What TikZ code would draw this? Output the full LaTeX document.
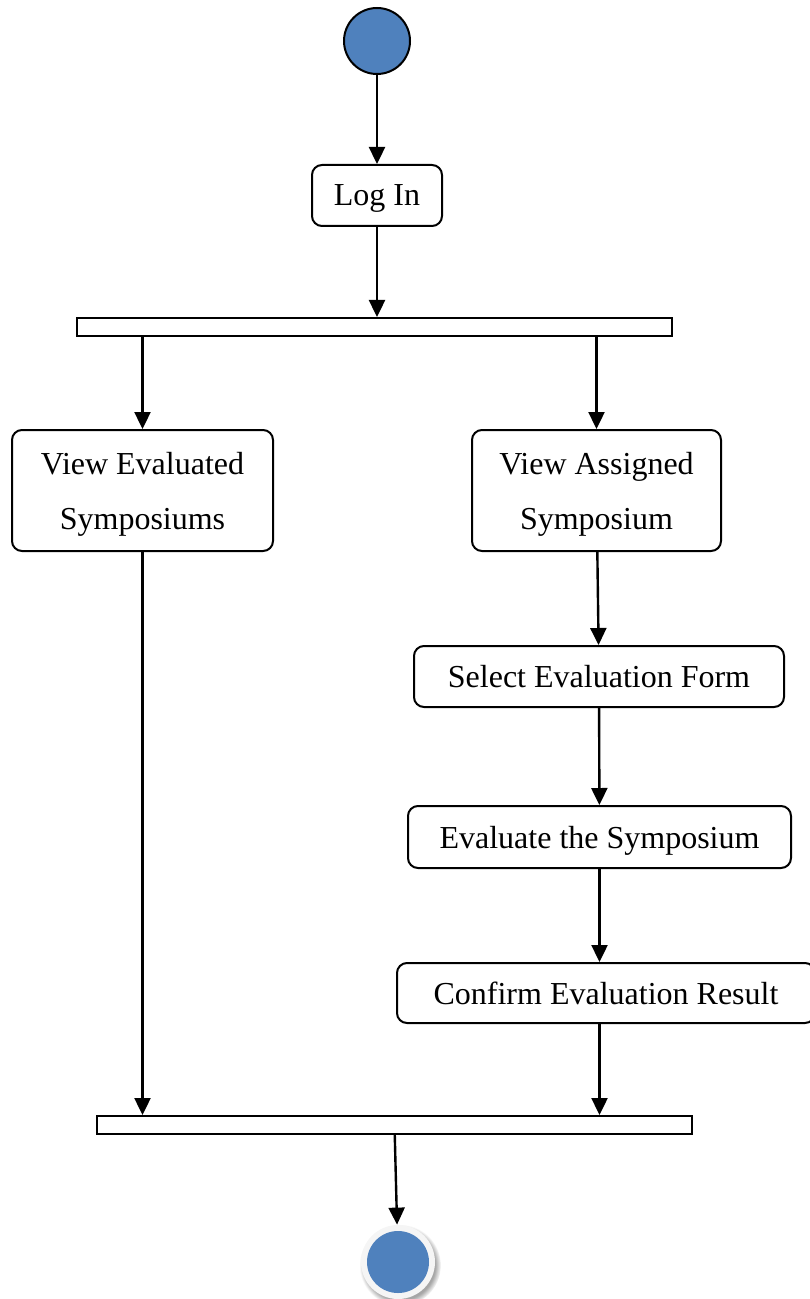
\documentclass[tikz,border=0pt]{standalone}
\usepackage{fontspec}
\setmainfont{Liberation Serif}
\usetikzlibrary{arrows.meta,shadows}

\definecolor{nodeblue}{HTML}{4F81BD}

\tikzstyle{activity} = [draw, line width=1pt, rounded corners=5pt, align=center, inner sep=0pt,
  text depth=0pt, font=\fontsize{16pt}{27.5pt}\selectfont]
\tikzstyle{bar} = [draw, line width=1pt, fill=white, inner sep=0pt, minimum height=9pt]
\tikzstyle{flow} = [line width=1.2pt, -{Triangle[length=8.5pt,width=8pt]}]

\begin{document}
\begin{tikzpicture}[x=0.5pt, y=-0.5pt]
      \useasboundingbox (0,0) rectangle (809,1299);

      \node[circle, draw, line width=1pt, fill=nodeblue, minimum size=33pt, inner sep=0pt] (start) at (377,41) {};
      \node[activity, minimum width=65pt, minimum height=30.5pt] (login) at (377,195.5) {Log In};
      \node[bar, minimum width=297.5pt] (fork) at (374.5,327) {};

      \node[activity, minimum width=130.5pt, minimum height=60.5pt] (viewevaluated) at (142.5,490.5) {View Evaluated\\Symposiums};
      \node[activity, minimum width=124.5pt, minimum height=60.5pt] (viewassigned) at (596.5,490.5) {View Assigned\\Symposium};
      \node[activity, minimum width=185pt, minimum height=30.5pt] (selectform) at (599,676.5) {Select Evaluation Form};
      \node[activity, minimum width=191.5pt, minimum height=31pt] (evaluate) at (599.5,837) {Evaluate the Symposium};
      \node[activity, minimum width=209pt, minimum height=30pt] (confirm) at (606,993) {Confirm Evaluation Result};

      \node[bar, minimum width=297.5pt] (join) at (394.5,1125) {};
      \node[circle, fill=gray!8, minimum size=37pt, inner sep=0pt,
            circular drop shadow={shadow xshift=1pt, shadow yshift=-1.5pt, fill=gray!70, opacity=1}] (end) at (398,1262) {};
      \node[circle, fill=nodeblue, minimum size=31pt, inner sep=0pt] (endcore) at (end) {};

      \draw[flow] (start) -- (login);
      \draw[flow] (login) -- (login |- fork.north);
      \draw[flow] (fork.south -| viewevaluated) -- (viewevaluated);
      \draw[flow] (fork.south -| viewassigned) -- (viewassigned);
      \draw[flow] (viewassigned) -- (selectform);
      \draw[flow] (selectform) -- (evaluate);
      \draw[flow] (evaluate) -- (evaluate |- confirm.north);
      \draw[flow] (confirm.south -| evaluate) -- (evaluate |- join.north);
      \draw[flow] (viewevaluated) -- (viewevaluated |- join.north);
      \draw[flow] (join) -- (end);
\end{tikzpicture}
\end{document}
